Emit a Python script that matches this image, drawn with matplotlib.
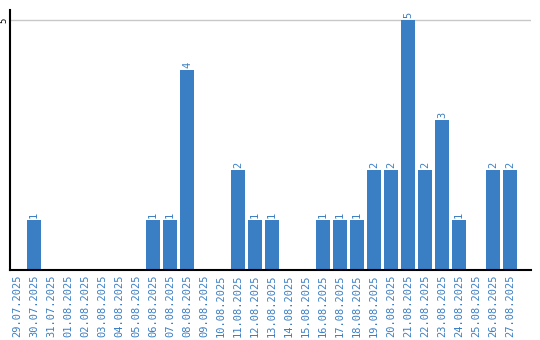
import matplotlib
matplotlib.use("Agg")
import matplotlib.pyplot as plt

dates = [
    "29.07.2025", "30.07.2025", "31.07.2025", "01.08.2025", "02.08.2025",
    "03.08.2025", "04.08.2025", "05.08.2025", "06.08.2025", "07.08.2025",
    "08.08.2025", "09.08.2025", "10.08.2025", "11.08.2025", "12.08.2025",
    "13.08.2025", "14.08.2025", "15.08.2025", "16.08.2025", "17.08.2025",
    "18.08.2025", "19.08.2025", "20.08.2025", "21.08.2025", "22.08.2025",
    "23.08.2025", "24.08.2025", "25.08.2025", "26.08.2025", "27.08.2025",
]
counts = [0, 1, 0, 0, 0, 0, 0, 0, 1, 1,
          4, 0, 0, 2, 1, 1, 0, 0, 1, 1,
          1, 2, 2, 5, 2, 3, 1, 0, 2, 2]

blue = "#3a7ec3"
mono = "DejaVu Sans Mono"

fig = plt.figure(figsize=(5.4, 3.4), dpi=100)
ax = fig.add_axes([10 / 540, 70 / 340, 521 / 540, 260 / 340])

x = list(range(len(dates)))
ax.bar(x, counts, width=0.82, color=blue, zorder=2)

# value labels above bars
for i, c in zip(x, counts):
    if c > 0:
        ax.text(i, c + 0.04, str(c), rotation=90, ha="center", va="bottom",
                color=blue, fontsize=7.5, family=mono)

ax.set_xlim(-0.41, 30.23)
ax.set_ylim(0, 5.2)
ax.set_xticks(x)
ax.set_xticklabels(dates, rotation=90, color=blue, fontsize=7.5, family=mono)
ax.set_yticks([5])
ax.set_yticklabels(["5"], rotation=90, va="center", fontsize=6.5, family=mono)
ax.tick_params(axis="x", length=0, pad=3)
ax.tick_params(axis="y", length=0, pad=1)
ax.yaxis.grid(True, color="#c8c8c8", linewidth=1, zorder=0)

for s in ["top", "right"]:
    ax.spines[s].set_visible(False)
ax.spines["left"].set_linewidth(1.5)
ax.spines["bottom"].set_linewidth(1.5)

fig.savefig("out.png", dpi=100)
